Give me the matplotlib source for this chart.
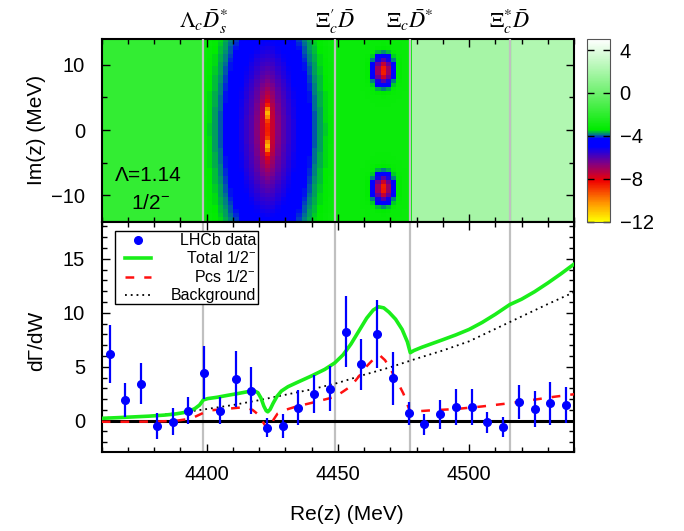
import numpy as np
import matplotlib
matplotlib.use("Agg")
import matplotlib.pyplot as plt
from matplotlib.colors import LinearSegmentedColormap, Normalize
from matplotlib.ticker import MultipleLocator
from matplotlib.patches import Rectangle
from matplotlib.lines import Line2D

plt.rcParams["font.family"] = ["Liberation Sans", "DejaVu Sans"]
plt.rcParams["mathtext.fontset"] = "custom"
plt.rcParams["mathtext.rm"] = "Liberation Sans"
plt.rcParams["mathtext.it"] = "Liberation Sans:italic"
plt.rcParams["mathtext.bf"] = "Liberation Sans:bold"

# ---------------- data ----------------
threshold_names = [r"$\Lambda_c\bar{D}_s^{*}$", r"$\Xi_c^{\prime}\bar{D}$",
                   r"$\Xi_c\bar{D}^{*}$", r"$\Xi_c^{*}\bar{D}$"]
threshold_mass = [4398.7, 4448.8, 4477.6, 4515.5]

# LHCb J/psi Lambda spectrum
lhcb_w = [4363, 4369, 4375, 4381, 4387, 4393, 4399, 4405, 4411, 4417,
          4423, 4429, 4435, 4441, 4447, 4453, 4459, 4465, 4471, 4477,
          4483, 4489, 4495, 4501, 4507, 4513, 4519, 4525, 4531, 4537]
lhcb_y = [6.15, 1.92, 3.43, -0.49, -0.09, 0.90, 4.44, 0.90, 3.86, 2.78,
          -0.65, -0.49, 1.20, 2.47, 2.98, 8.24, 5.22, 8.02, 3.91, 0.68,
          -0.35, 0.60, 1.30, 1.30, -0.16, -0.61, 1.70, 1.07, 1.61, 1.45]
lhcb_err = [2.70, 1.55, 1.90, 1.20, 1.25, 1.25, 2.45, 1.25, 2.55, 2.20,
            0.90, 1.10, 1.60, 1.75, 2.05, 3.30, 2.35, 3.15, 2.45, 1.07,
            1.00, 1.35, 1.67, 1.67, 0.97, 0.92, 1.58, 1.67, 2.00, 1.65]

# full model (1/2^-)
total_w = [4360, 4366, 4372, 4378, 4384, 4388, 4391, 4393.5, 4395.5, 4397.3,
           4398.7, 4400.5, 4404, 4408, 4412, 4415.5, 4418, 4419.5, 4420.7, 4421.8,
           4422.7, 4423.3, 4424.2, 4425.3, 4426.8, 4428.5, 4431, 4435, 4440, 4445,
           4448.8, 4452, 4455, 4458, 4461, 4463.5, 4465.5, 4467.5, 4469.5, 4472,
           4474.5, 4476.5, 4477.6, 4479, 4482, 4486, 4490, 4495, 4500, 4505,
           4510, 4515.5, 4520, 4525, 4530, 4535, 4540]
total_y = [0.22, 0.28, 0.35, 0.42, 0.52, 0.62, 0.74, 0.90, 1.12, 1.45,
           1.92, 2.05, 2.17, 2.35, 2.52, 2.68, 2.78, 2.60, 2.10, 1.35,
           0.92, 0.82, 1.05, 1.60, 2.25, 2.75, 3.15, 3.60, 4.15, 4.75,
           5.35, 6.10, 7.10, 8.30, 9.50, 10.25, 10.55, 10.45, 10.05, 9.40,
           8.45, 7.30, 6.30, 6.50, 6.80, 7.15, 7.50, 7.95, 8.45, 9.10,
           9.85, 10.75, 11.25, 11.95, 12.75, 13.60, 14.50]

# Pcs 1/2^- contribution
pcs_w = [4360, 4370, 4380, 4388, 4392, 4395, 4398.7, 4402, 4407, 4412,
         4415, 4417.5, 4419.5, 4421, 4422.3, 4423.2, 4424.3, 4425.5, 4427, 4430,
         4434, 4440, 4448.8, 4452, 4455, 4458, 4461, 4464, 4466, 4468,
         4470, 4472.5, 4475, 4476.8, 4477.6, 4479, 4485, 4495, 4505, 4515.5,
         4525, 4532, 4540]
pcs_y = [-0.10, -0.10, -0.08, -0.02, 0.12, 0.30, 0.72, 0.97, 1.08, 1.20,
         1.22, 1.00, 0.60, 0.05, -0.45, -0.75, -0.55, 0.10, 0.65, 1.00,
         1.30, 1.65, 2.20, 2.70, 3.20, 4.10, 5.05, 5.80, 6.05, 5.60,
         4.80, 3.70, 2.50, 1.30, 0.80, 0.85, 0.95, 1.08, 1.32, 1.62,
         1.95, 2.20, 2.45]

# background
bkg_w = [4360, 4370, 4380, 4390, 4400, 4410, 4420, 4430, 4440, 4450,
         4460, 4470, 4480, 4490, 4500, 4510, 4520, 4530, 4540]
bkg_y = [0.25, 0.33, 0.46, 0.74, 1.08, 1.45, 1.90, 2.40, 2.90, 3.50,
         4.25, 4.95, 5.75, 6.50, 7.35, 8.50, 9.65, 10.80, 11.90]

# poles in the complex plane (Re, Im) in MeV
pole_re = [4423.0, 4423.0, 4467.0, 4467.0]
pole_im = [2.5, -2.5, 9.0, -9.0]
# map level on each Riemann-sheet segment between thresholds
sheet_level = [-1.8, -2.7, -3.1, 1.9, 2.3]

# ---------------- complex-plane map ----------------
nx, ny = 90, 45
re_c = 4360 + (np.arange(nx) + 0.5) * 180.0 / nx
im_c = -14 + (np.arange(ny) + 0.5) * 28.0 / ny
RE, IM = np.meshgrid(re_c, im_c)

zmap = np.full(RE.shape, sheet_level[0])
t0, t1, t2, t3 = threshold_mass

# broad depression with the pole pair between Lambda_c Ds* and Xi_c' Dbar
seg = (RE >= t0) & (RE < t1)
dx = RE - pole_re[0]
val = sheet_level[1] - 3.3 * np.exp(-(dx ** 2 / 331.0 + IM ** 2 / 374.0))
for pr, pi in zip(pole_re[:2], pole_im[:2]):
    ex = (RE - pr) ** 2
    ey = (IM - pi) ** 2
    val -= 1.81 / (1 + ex / 5.0 + ey / 16.0)
    val -= 2.3 * np.exp(-(ex / 0.8 + ey / 1.0))
zmap[seg] = val[seg]

# narrow pole pair between Xi_c' Dbar and Xi_c Dbar*
seg = (RE >= t1) & (RE < t2)
spot = np.full(RE.shape, sheet_level[2])
for pr, pi in zip(pole_re[2:], pole_im[2:]):
    d2 = (RE - pr) ** 2 + ((IM - pi) / 0.57) ** 2
    spot -= 5.6 * np.exp(-d2 / 11.9)
zmap[seg] = spot[seg]

zmap[(RE >= t2) & (RE < t3)] = sheet_level[3]
zmap[RE >= t3] = sheet_level[4]

cb_levels = [-12, -10.3, -8.2, -6.6, -5.0, -4.25, -3.9, -3.4, 0, 5]
cb_colors = ["#ffff00", "#ff9600", "#f00000", "#820082", "#0000ff",
             "#0000ff", "#00788c", "#00eb00", "#6ef06e", "#ffffff"]
vmin, vmax = -12, 5
cmap = LinearSegmentedColormap.from_list(
    "poles", [((v - vmin) / (vmax - vmin), c) for v, c in zip(cb_levels, cb_colors)])

# ---------------- figure ----------------
W, H = 684, 531
fig = plt.figure(figsize=(W / 100, H / 100), dpi=100)

def px_axes(x0, y0, x1, y1):
    return fig.add_axes([x0 / W, 1 - y1 / H, (x1 - x0) / W, (y1 - y0) / H])

ax_top = px_axes(101.7, 38.5, 574, 221.5)
ax_bot = px_axes(101.7, 221.5, 574, 452)
cax = px_axes(586.7, 39.3, 610, 221.7)

fs = 14.5
for ax in (ax_top, ax_bot):
    for s in ax.spines.values():
        s.set_linewidth(1.5)
    ax.tick_params(which="both", direction="in", top=True, right=True,
                   labelsize=fs, width=1.0)
    ax.tick_params(which="major", length=6)
    ax.tick_params(which="minor", length=3.5)
    ax.set_xlim(4360, 4540)
    ax.xaxis.set_major_locator(MultipleLocator(50))
    ax.xaxis.set_minor_locator(MultipleLocator(10))
    ax.tick_params(axis="y", pad=12)
    ax.tick_params(axis="x", pad=9)

# top panel
im = ax_top.imshow(zmap, extent=[4360, 4540, -14, 14], origin="lower",
                   aspect="auto", interpolation="nearest", cmap=cmap,
                   norm=Normalize(vmin, vmax))
ax_top.set_ylim(-14, 14)
ax_top.yaxis.set_major_locator(MultipleLocator(10))
ax_top.yaxis.set_minor_locator(MultipleLocator(5))
ax_top.tick_params(axis="x", labelbottom=False)
for m in threshold_mass:
    ax_top.axvline(m, color="#c0c0c0", lw=1.6, zorder=3)
ax_top.text(0.028, 0.25, "Λ=1.14", transform=ax_top.transAxes, fontsize=15,
            va="center", ha="left")
ax_top.text(0.062, 0.10, r"1/2$^{-}$", transform=ax_top.transAxes, fontsize=15,
            va="center", ha="left")

for name, m in zip(threshold_names, threshold_mass):
    xf = (101.7 + (m - 4360) / 180.0 * (574 - 101.7)) / W
    fig.text(xf, 1 - 28 / H, name, ha="center", va="baseline", fontsize=16,
             math_fontfamily="stix")

# colour bar
cb = fig.colorbar(im, cax=cax)
cb.set_ticks([-12, -8, -4, 0, 4])
cb.set_ticklabels(["\u221212", "\u22128", "\u22124", "0", "4"])
cb.outline.set_linewidth(0.8)
cb.outline.set_edgecolor("#555555")
cax.tick_params(which="both", direction="in", left=True, right=True,
                length=5, width=1.0, labelsize=fs, pad=7)
cax.minorticks_off()

# bottom panel
ax_bot.set_ylim(-2.9, 18.45)
ax_bot.yaxis.set_major_locator(MultipleLocator(5))
ax_bot.yaxis.set_minor_locator(MultipleLocator(1))
for m in threshold_mass:
    ax_bot.axvline(m, color="#c0c0c0", lw=1.6, zorder=1)
ax_bot.axhline(0, color="black", lw=2.2, zorder=2)
ax_bot.plot(bkg_w, bkg_y, color="black", lw=1.3, ls=(0, (1, 2.2)), zorder=3)
ax_bot.plot(pcs_w, pcs_y, color="#ff1010", lw=1.8, ls=(0, (3.5, 4)), zorder=4)
ax_bot.plot(total_w, total_y, color="#1aee1a", lw=2.6, zorder=5)
ax_bot.errorbar(lhcb_w, lhcb_y, yerr=lhcb_err, fmt="o", color="#0000ff",
                ms=5.5, elinewidth=1.6, capsize=0, zorder=6)

# legend
lx0, lx1, ly0, ly1 = 0.0282, 0.3316, 0.6408, 0.9575
ax_bot.add_patch(Rectangle((lx0, ly0), lx1 - lx0, ly1 - ly0, transform=ax_bot.transAxes,
                           facecolor="white", edgecolor="black", lw=1.0, zorder=8))
rows = [0.9176, 0.8395, 0.7605, 0.6811]
labels = ["LHCb data", r"Total 1/2$^{-}$", r"Pcs 1/2$^{-}$", "Background"]
ax_bot.add_line(Line2D([0.0762], [rows[0]], transform=ax_bot.transAxes, marker="o",
                       ms=5.5, color="#0000ff", ls="none", zorder=9))
ax_bot.add_line(Line2D([0.0495, 0.1039], [rows[1]] * 2, transform=ax_bot.transAxes,
                       color="#1aee1a", lw=2.6, zorder=9))
ax_bot.add_line(Line2D([0.0495, 0.1039], [rows[2]] * 2, transform=ax_bot.transAxes,
                       color="#ff1010", lw=1.8, ls=(0, (3.5, 4)), zorder=9))
ax_bot.add_line(Line2D([0.0495, 0.1039], [rows[3]] * 2, transform=ax_bot.transAxes,
                       color="black", lw=1.3, ls=(0, (1, 2.2)), zorder=9))
for r, lab in zip(rows, labels):
    ax_bot.text(0.3267, r, lab, transform=ax_bot.transAxes, ha="right", va="center",
                fontsize=11.5, zorder=10)

# axis titles
fig.text(37 / W, 1 - 130 / H, "Im(z) (MeV)", rotation=90, ha="center", va="center",
         fontsize=15)
fig.text(37 / W, 1 - 341 / H, "dΓ/dW", rotation=90, ha="center", va="center",
         fontsize=15)
fig.text(347 / W, 1 - 515 / H, "Re(z) (MeV)", ha="center", va="center", fontsize=15)

fig.savefig("out.png", dpi=100)
